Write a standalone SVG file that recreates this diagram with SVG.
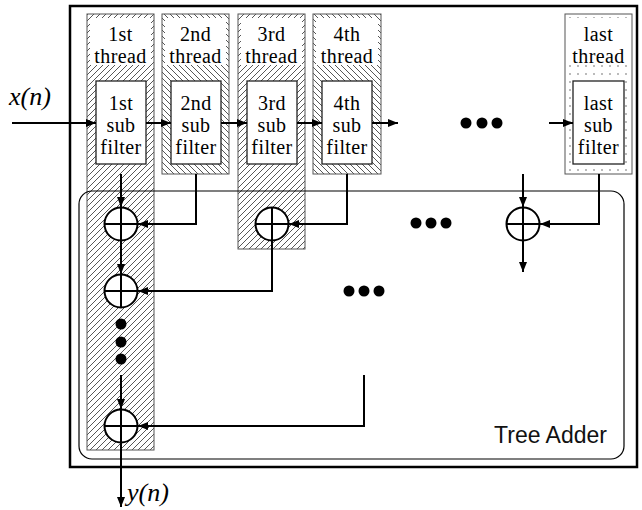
<svg xmlns="http://www.w3.org/2000/svg" width="642" height="510" viewBox="0 0 642 510">
<style>
.col{stroke:#555;stroke-width:1}
.sf{fill:#fff;stroke:#222;stroke-width:1.3}
.lbl{font-family:"Liberation Serif","Times New Roman",serif;font-size:20px;letter-spacing:0.4px;text-anchor:middle;fill:#000}
.math{font-family:"Liberation Serif","Times New Roman",serif;font-style:italic;font-size:26px;fill:#000}
.wire{fill:none;stroke:#000;stroke-width:2}
.arr{marker-end:url(#ah)}
.add circle{fill:#fff;stroke:#000;stroke-width:2}
.add path{stroke:#000;stroke-width:2}
.dot{fill:#000}
</style>
<defs>
<pattern id="hf" patternUnits="userSpaceOnUse" width="6" height="6">
<rect width="6" height="6" fill="#fff"/>
<path d="M0,6 L6,0 M-1,1 L1,-1 M5,7 L7,5" stroke="#444" stroke-width="0.9"/>
</pattern>
<pattern id="hb" patternUnits="userSpaceOnUse" width="6" height="6">
<rect width="6" height="6" fill="#fff"/>
<path d="M0,0 L6,6 M-1,5 L1,7 M5,-1 L7,1" stroke="#444" stroke-width="0.9"/>
</pattern>
<pattern id="dp" patternUnits="userSpaceOnUse" width="8" height="8">
<rect width="8" height="8" fill="#fff"/>
<circle cx="2" cy="2" r="0.7" fill="#444"/>
</pattern>
<marker id="ah" markerUnits="userSpaceOnUse" markerWidth="11" markerHeight="9" refX="10" refY="4" orient="auto">
<path d="M0,0 L10,4 L0,8 z" fill="#000"/>
</marker>
</defs>
<rect x="70" y="6" width="567" height="461" fill="#fff" stroke="#000" stroke-width="2.5"/>

<g id="thread1">
<rect class="col" x="87" y="14" width="67" height="436" fill="url(#hf)"/>
<rect x="90" y="18" width="61" height="47" fill="#fff"/>
<text class="lbl" x="120.5" y="41">1st</text>
<text class="lbl" x="120.5" y="63">thread</text>
<rect class="sf" x="96" y="81" width="50" height="83"/>
<text class="lbl" x="121" y="110">1st</text>
<text class="lbl" x="121" y="132">sub</text>
<text class="lbl" x="121" y="154">filter</text>
</g>
<g id="thread2">
<rect class="col" x="162" y="14" width="67" height="160" fill="url(#hb)"/>
<rect x="165" y="18" width="61" height="47" fill="#fff"/>
<text class="lbl" x="195.5" y="41">2nd</text>
<text class="lbl" x="195.5" y="63">thread</text>
<rect class="sf" x="171" y="81" width="50" height="83"/>
<text class="lbl" x="196" y="110">2nd</text>
<text class="lbl" x="196" y="132">sub</text>
<text class="lbl" x="196" y="154">filter</text>
</g>
<g id="thread3">
<rect class="col" x="238" y="14" width="67" height="235" fill="url(#hf)"/>
<rect x="241" y="18" width="61" height="47" fill="#fff"/>
<text class="lbl" x="271.5" y="41">3rd</text>
<text class="lbl" x="271.5" y="63">thread</text>
<rect class="sf" x="247" y="81" width="50" height="83"/>
<text class="lbl" x="272" y="110">3rd</text>
<text class="lbl" x="272" y="132">sub</text>
<text class="lbl" x="272" y="154">filter</text>
</g>
<g id="thread4">
<rect class="col" x="313" y="14" width="68" height="160" fill="url(#hb)"/>
<rect x="316" y="18" width="62" height="47" fill="#fff"/>
<text class="lbl" x="347" y="41">4th</text>
<text class="lbl" x="347" y="63">thread</text>
<rect class="sf" x="322" y="81" width="50" height="83"/>
<text class="lbl" x="347" y="110">4th</text>
<text class="lbl" x="347" y="132">sub</text>
<text class="lbl" x="347" y="154">filter</text>
</g>
<g id="threadlast">
<rect class="col" x="565" y="14" width="67" height="160" fill="url(#dp)" stroke="#222"/>
<rect x="568" y="18" width="61" height="47" fill="#fff"/>
<text class="lbl" x="598.5" y="41">last</text>
<text class="lbl" x="598.5" y="63">thread</text>
<rect class="sf" x="573" y="81" width="51" height="83"/>
<text class="lbl" x="598.5" y="110">last</text>
<text class="lbl" x="598.5" y="132">sub</text>
<text class="lbl" x="598.5" y="154">filter</text>
</g>

<g id="treeadder">
<rect x="79" y="191" width="545" height="268" rx="13" fill="none" stroke="#000" stroke-width="1.2"/>
<text x="607" y="443" font-family="'Liberation Sans',Arial,sans-serif" font-size="23" text-anchor="end" fill="#111">Tree Adder</text>
</g>

<g id="connectors">
<path class="wire arr" d="M12,123 H96"/>
<path class="wire arr" d="M146,123 H171"/>
<path class="wire arr" d="M221,123 H247"/>
<path class="wire arr" d="M297,123 H322"/>
<path class="wire arr" d="M372,123 H398"/>
<path class="wire arr" d="M549,123 H573"/>
<path class="wire arr" d="M121,174 V207"/>
<path class="wire arr" d="M196,174 V224 H138"/>
<path class="wire arr" d="M121,241 V274"/>
<path class="wire arr" d="M347,174 V224 H289"/>
<path class="wire arr" d="M272,241 V291 H138"/>
<path class="wire arr" d="M523,174 V207"/>
<path class="wire arr" d="M599,174 V224 H540"/>
<path class="wire arr" d="M523,241 V272"/>
<path class="wire arr" d="M121,375 V409"/>
<path class="wire arr" d="M364,375 V426 H138"/>
<path class="wire arr" d="M121,443 V507"/>
</g>

<g id="adder1" class="add"><circle cx="121" cy="224" r="16.5"/><path d="M104.5,224 H137.5 M121,207.5 V240.5"/></g>
<g id="adder2" class="add"><circle cx="121" cy="291" r="16.5"/><path d="M104.5,291 H137.5 M121,274.5 V307.5"/></g>
<g id="adder3" class="add"><circle cx="272" cy="224" r="16.5"/><path d="M255.5,224 H288.5 M272,207.5 V240.5"/></g>
<g id="adder4" class="add"><circle cx="523" cy="224" r="16.5"/><path d="M506.5,224 H539.5 M523,207.5 V240.5"/></g>
<g id="adder5" class="add"><circle cx="121" cy="426" r="16.5"/><path d="M104.5,426 H137.5 M121,409.5 V442.5"/></g>

<g id="dots">
<circle class="dot" cx="466" cy="123" r="5.5"/><circle class="dot" cx="482" cy="123" r="5.5"/><circle class="dot" cx="497" cy="123" r="5.5"/>
<circle class="dot" cx="416" cy="223" r="5.5"/><circle class="dot" cx="431" cy="223" r="5.5"/><circle class="dot" cx="446" cy="223" r="5.5"/>
<circle class="dot" cx="349" cy="291" r="5.5"/><circle class="dot" cx="364" cy="291" r="5.5"/><circle class="dot" cx="379" cy="291" r="5.5"/>
<circle class="dot" cx="121" cy="324" r="5.5"/><circle class="dot" cx="121" cy="342" r="5.5"/><circle class="dot" cx="121" cy="359" r="5.5"/>
</g>

<text class="math" x="9" y="105">x(n)</text>
<text class="math" x="127" y="501">y(n)</text>
</svg>
